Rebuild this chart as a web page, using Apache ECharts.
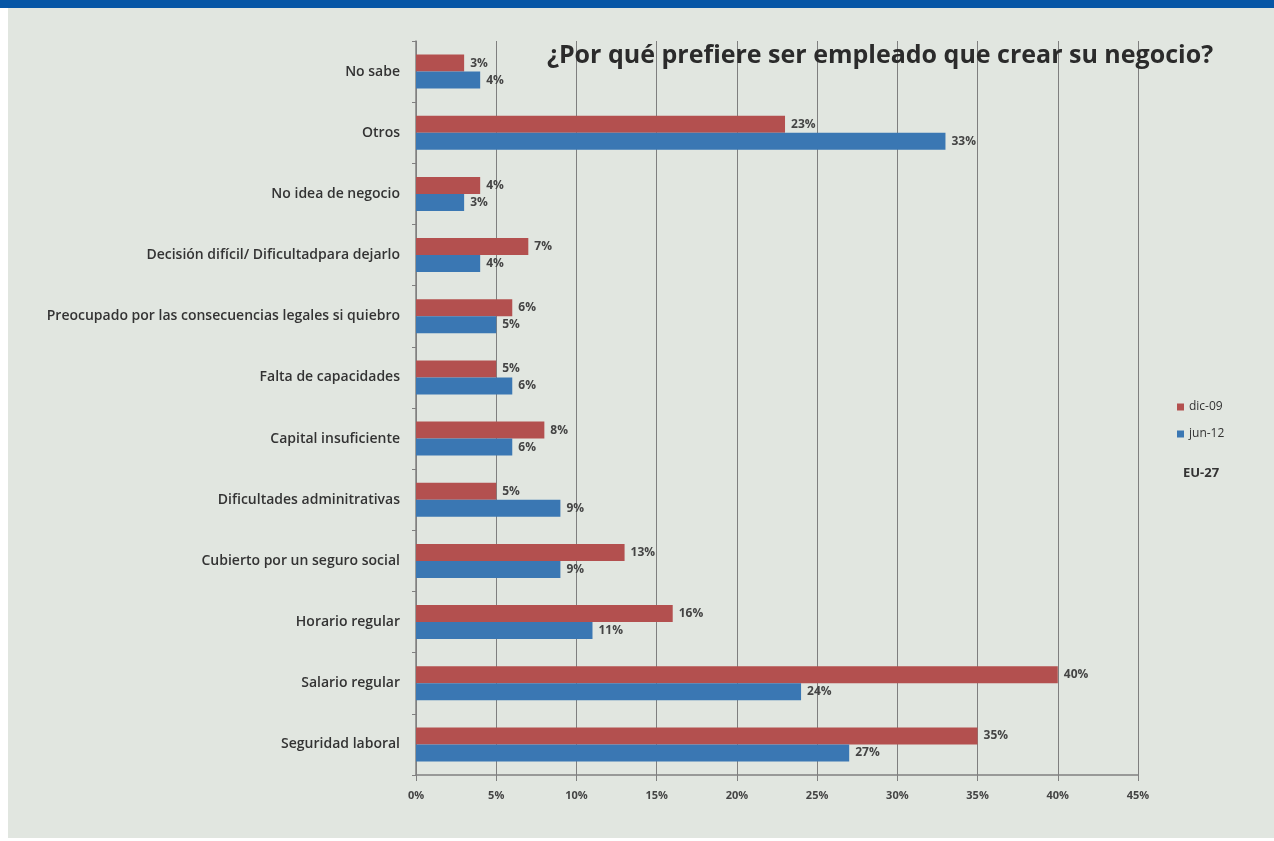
<!DOCTYPE html>
<html>
<head>
<meta charset="utf-8">
<script src="https://cdn.jsdelivr.net/npm/echarts@6/dist/echarts.min.js"></script>
<style>
html,body{margin:0;padding:0;background:#ffffff;}
#wrap{position:absolute;left:0;top:0;width:1274px;height:841px;background:#ffffff;}
#band{position:absolute;left:0;top:0;width:1274px;height:8px;background:#0656a6;}
#chart{position:absolute;left:8px;top:8px;width:1266px;height:830px;background:#e1e6e0;}
</style>
</head>
<body>
<div id="wrap"><div id="band"></div><div id="chart"></div></div>
<script>
const categories = [
  "No sabe",
  "Otros",
  "No idea de negocio",
  "Decisión difícil/ Dificultadpara dejarlo",
  "Preocupado por las consecuencias legales si quiebro",
  "Falta de capacidades",
  "Capital insuficiente",
  "Dificultades adminitrativas",
  "Cubierto por un seguro social",
  "Horario regular",
  "Salario regular",
  "Seguridad laboral"
];
const dic09 = [3, 23, 4, 7, 6, 5, 8, 5, 13, 16, 40, 35];
const jun12 = [4, 33, 3, 4, 5, 6, 6, 9, 9, 11, 24, 27];
const seriesNames = ["dic-09", "jun-12"];
const titleText = "¿Por qué prefiere ser empleado que crear su negocio?";
const regionText = "EU-27";

const chart = echarts.init(document.getElementById('chart'));
const FONT = "Open Sans";
const labelStyle = {
  show: true, position: 'right', distance: 6,
  formatter: p => p.value + '%',
  color: '#444', fontFamily: FONT, fontSize: 12, fontWeight: 'bold'
};
chart.setOption({
  backgroundColor: '#e1e6e0',
  animation: false,
  title: {
    text: titleText,
    left: 534, top: 30,
    textStyle: {fontFamily: FONT, fontSize: 25, fontWeight: 'bold', color: '#2b2b2b'}
  },
  legend: {
    data: seriesNames,
    orient: 'vertical',
    left: 1164, top: 388,
    itemWidth: 7, itemHeight: 7, itemGap: 15,
    icon: 'rect',
    textStyle: {fontFamily: FONT, fontSize: 12, color: '#333'}
  },
  graphic: [{
    type: 'text', left: 1175, top: 459,
    style: {text: regionText, font: 'bold 13px "Open Sans"', fill: '#333'}
  }],
  grid: {left: 408, right: 136, top: 33, bottom: 63, containLabel: false},
  xAxis: {
    type: 'value', min: 0, max: 45, interval: 5,
    axisLabel: {formatter: '{value}%', color: '#444', fontFamily: FONT, fontSize: 11, fontWeight: 'bold', margin: 15},
    axisLine: {show: true, lineStyle: {color: '#808080', width: 1.5}},
    axisTick: {show: true, length: 6, lineStyle: {color: '#808080'}},
    splitLine: {show: true, lineStyle: {color: '#7f7f7f', width: 1}}
  },
  yAxis: {
    type: 'category', data: categories, inverse: true,
    axisLabel: {color: '#333', fontFamily: FONT, fontSize: 14, fontWeight: 600, margin: 16},
    axisLine: {show: true, lineStyle: {color: '#808080', width: 1.5}},
    axisTick: {show: true, length: 4, lineStyle: {color: '#808080'}}
  },
  series: [
    {name: seriesNames[0], type: 'bar', data: dic09, barWidth: 17, barGap: '0%',
     itemStyle: {color: '#b3504f'}, label: labelStyle},
    {name: seriesNames[1], type: 'bar', data: jun12, barWidth: 17, barGap: '0%',
     itemStyle: {color: '#3a77b3'}, label: labelStyle}
  ]
});
</script>
</body>
</html>
